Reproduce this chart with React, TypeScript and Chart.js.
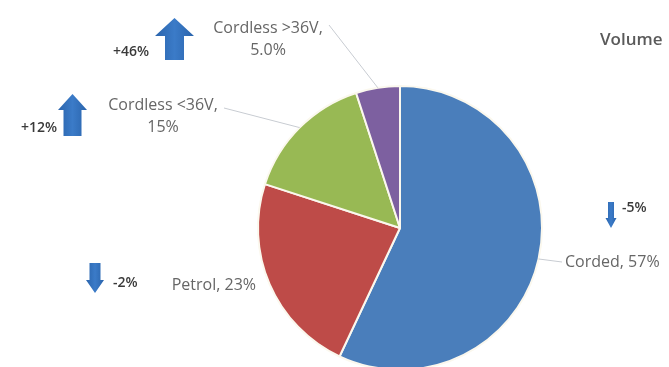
import React, { useEffect, useRef } from "react";
import { Chart, registerables } from "chart.js";

Chart.register(...registerables);

// ---- data ----
const categories = ["Corded", "Petrol", "Cordless <36V", "Cordless >36V"];
const shares = [57, 23, 15, 5];
const shareLabels = ["57%", "23%", "15%", "5.0%"];
const changes = ["-5%", "-2%", "+12%", "+46%"];
const sliceColors = ["#4A7EBB", "#BE4B48", "#98B954", "#7D60A0"];
const chartTitle = "Volume";

// ---- annotation placement (layout only) ----
type Place = {
  lines: number;
  tx: number;
  ty: number;
  align: CanvasTextAlign;
  leader: [number, number] | null;
  arrow: { cx: number; top: number; bottom: number; headW: number; shaftW: number; headLen: number; up: boolean };
  cx: number;
  cy: number;
  calign: CanvasTextAlign;
};

const places: Place[] = [
  {
    lines: 1, tx: 565, ty: 262, align: "left", leader: [562, 262],
    arrow: { cx: 611, top: 202, bottom: 228, headW: 11, shaftW: 6, headLen: 10, up: false },
    cx: 622, cy: 208, calign: "left",
  },
  {
    lines: 1, tx: 256, ty: 285, align: "right", leader: null,
    arrow: { cx: 95, top: 263, bottom: 293, headW: 18, shaftW: 11, headLen: 13, up: false },
    cx: 113, cy: 283, calign: "left",
  },
  {
    lines: 2, tx: 163, ty: 105, align: "center", leader: [224, 108],
    arrow: { cx: 72.5, top: 94, bottom: 136, headW: 29, shaftW: 18, headLen: 16, up: true },
    cx: 57, cy: 128, calign: "right",
  },
  {
    lines: 2, tx: 268, ty: 28, align: "center", leader: [329, 25],
    arrow: { cx: 174.5, top: 18, bottom: 60, headW: 39, shaftW: 19, headLen: 18, up: true },
    cx: 149, cy: 52, calign: "right",
  },
];

function drawArrow(ctx: CanvasRenderingContext2D, a: Place["arrow"]) {
  const { cx, top, bottom, headW, shaftW, headLen, up } = a;
  ctx.save();
  const g = ctx.createLinearGradient(cx - headW / 2, 0, cx + headW / 2, 0);
  g.addColorStop(0, "#2A64AC");
  g.addColorStop(0.5, "#3B7BC8");
  g.addColorStop(1, "#2A64AC");
  ctx.fillStyle = g;
  ctx.beginPath();
  if (up) {
    ctx.moveTo(cx, top);
    ctx.lineTo(cx + headW / 2, top + headLen);
    ctx.lineTo(cx + shaftW / 2, top + headLen);
    ctx.lineTo(cx + shaftW / 2, bottom);
    ctx.lineTo(cx - shaftW / 2, bottom);
    ctx.lineTo(cx - shaftW / 2, top + headLen);
    ctx.lineTo(cx - headW / 2, top + headLen);
  } else {
    ctx.moveTo(cx, bottom);
    ctx.lineTo(cx + headW / 2, bottom - headLen);
    ctx.lineTo(cx + shaftW / 2, bottom - headLen);
    ctx.lineTo(cx + shaftW / 2, top);
    ctx.lineTo(cx - shaftW / 2, top);
    ctx.lineTo(cx - shaftW / 2, bottom - headLen);
    ctx.lineTo(cx - headW / 2, bottom - headLen);
  }
  ctx.closePath();
  ctx.fill();
  ctx.restore();
}

const FONT = "'Open Sans', 'DejaVu Sans', sans-serif";

const annotationPlugin = {
  id: "pieAnnotations",
  afterDatasetsDraw(chart: any) {
    const ctx: CanvasRenderingContext2D = chart.ctx;
    const meta = chart.getDatasetMeta(0);
    ctx.save();
    meta.data.forEach((arc: any, i: number) => {
      const p = places[i];
      const mid = (arc.startAngle + arc.endAngle) / 2;
      const ex = arc.x + Math.cos(mid) * arc.outerRadius;
      const ey = arc.y + Math.sin(mid) * arc.outerRadius;
      if (p.leader) {
        ctx.strokeStyle = "#C8CCD2";
        ctx.lineWidth = 1;
        ctx.beginPath();
        ctx.moveTo(p.leader[0], p.leader[1]);
        ctx.lineTo(ex, ey);
        ctx.stroke();
      }
      ctx.fillStyle = "#666666";
      ctx.font = `16px ${FONT}`;
      ctx.textBaseline = "middle";
      ctx.textAlign = p.align;
      if (p.lines === 2) {
        ctx.fillText(categories[i] + ",", p.tx, p.ty);
        ctx.fillText(shareLabels[i], p.tx, p.ty + 22);
      } else {
        ctx.fillText(categories[i] + ", " + shareLabels[i], p.tx, p.ty);
      }
      drawArrow(ctx, p.arrow);
      ctx.fillStyle = "#3A3A3A";
      ctx.font = `600 14px ${FONT}`;
      ctx.textAlign = p.calign;
      ctx.fillText(changes[i], p.cx, p.cy);
    });
    ctx.fillStyle = "#5A5A5A";
    ctx.font = `600 17px ${FONT}`;
    ctx.textAlign = "left";
    ctx.fillText(chartTitle, 600, 40);
    ctx.restore();
  },
};

export default function App() {
  const ref = useRef<HTMLCanvasElement>(null);
  useEffect(() => {
    if (!ref.current) return;
    const chart = new Chart(ref.current, {
      type: "pie",
      data: {
        labels: categories,
        datasets: [
          {
            data: shares,
            backgroundColor: sliceColors,
            borderColor: "#FBF8EE",
            borderWidth: 2,
            hoverOffset: 0,
          },
        ],
      },
      options: {
        responsive: false,
        animation: false,
        events: [],
        radius: 142,
        layout: { padding: { left: 258, right: 127, top: 86, bottom: 10 } },
        plugins: { legend: { display: false }, tooltip: { enabled: false }, title: { display: false } },
      } as any,
      plugins: [annotationPlugin],
    });
    return () => chart.destroy();
  }, []);
  return (
    <div style={{ position: "absolute", left: 0, top: 0, width: 669, height: 367, overflow: "hidden", background: "#fff" }}>
      <canvas ref={ref} width={669} height={380} style={{ width: 669, height: 380, display: "block" }} />
    </div>
  );
}
